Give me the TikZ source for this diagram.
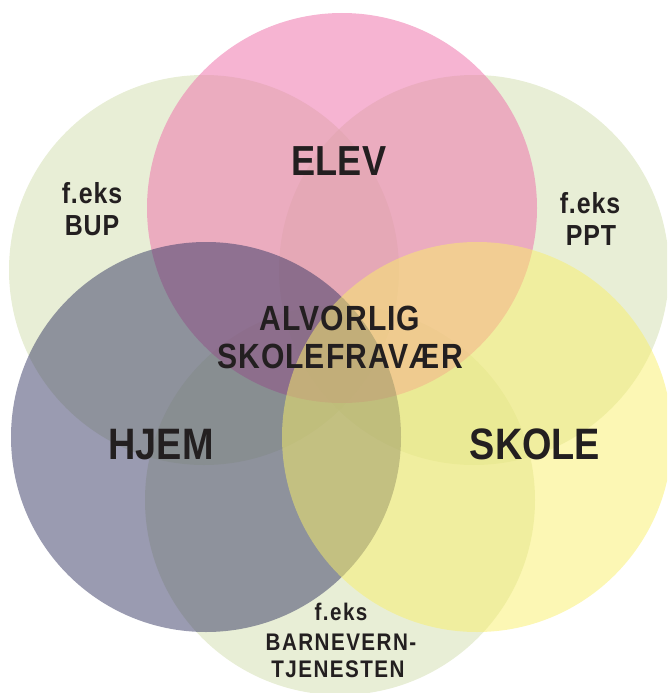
\documentclass[tikz,border=0pt]{standalone}
\usepackage{fontspec}
\setmainfont{Liberation Sans}[FakeStretch=0.86]
\usepackage{tikz}

\definecolor{sidegreen}{RGB}{209,221,173}
\definecolor{elevpink}{RGB}{238,118,173}
\definecolor{hjemblue}{RGB}{53,55,99}
\definecolor{skoleyellow}{RGB}{249,239,105}
\definecolor{textdark}{RGB}{35,31,32}

\tikzset{
  disc/.style={fill=#1, fill opacity=.5},
  word/.style={anchor=base, inner sep=0, text=textdark},
  bigword/.style={word, font=\bfseries\fontsize{44}{44}\selectfont},
  midword/.style={word, font=\bfseries\fontsize{35}{35}\selectfont\addfontfeature{LetterSpace=3}},
  smallword/.style={word, font=\bfseries\fontsize{29}{29}\selectfont\addfontfeature{LetterSpace=3}},
  tinyword/.style={word, font=\bfseries\fontsize{24}{24}\selectfont\addfontfeature{LetterSpace=6}}
}

\begin{document}
\begin{tikzpicture}[x=1pt,y=-1pt]
\useasboundingbox (0,0) rectangle (667,693);
\begin{scope}
\clip (0,0) rectangle (667,693);
% the three outer partners
\foreach \cx/\cy in {204/270, 474/270, 340/500} {
  \fill[disc=sidegreen] (\cx,\cy) circle (195pt);
}
% elev, hjem, skole on top
\fill[disc=elevpink, fill opacity=.55] (342,208) circle (195pt);
\fill[disc=hjemblue] (206,437) circle (195pt);
\fill[disc=skoleyellow] (477,437) circle (195pt);
\end{scope}

\node[bigword, font=\bfseries\fontsize{42}{42}\selectfont] (elev) at (339,175) {ELEV};
\node[bigword] (hjem) at (161,459) {HJEM};
\node[bigword] (skole) at (535,459) {SKOLE};

\node[midword] (alvorlig) at (340,330) {ALVORLIG};
\node[midword] (fravaer) at (340,368) {SKOLEFRAVÆR};

\node[smallword] (bupeks) at (92,203) {f.eks};
\node[smallword] (bup) at (92,235) {BUP};
\node[smallword] (ppteks) at (590,213) {f.eks};
\node[smallword] (ppt) at (591,245) {PPT};

\node[tinyword] (barneks) at (341,620) {f.eks};
\node[tinyword] (barnevern) at (341,650) {BARNEVERN-};
\node[tinyword] (tjenesten) at (338,677) {TJENESTEN};
\end{tikzpicture}
\end{document}
